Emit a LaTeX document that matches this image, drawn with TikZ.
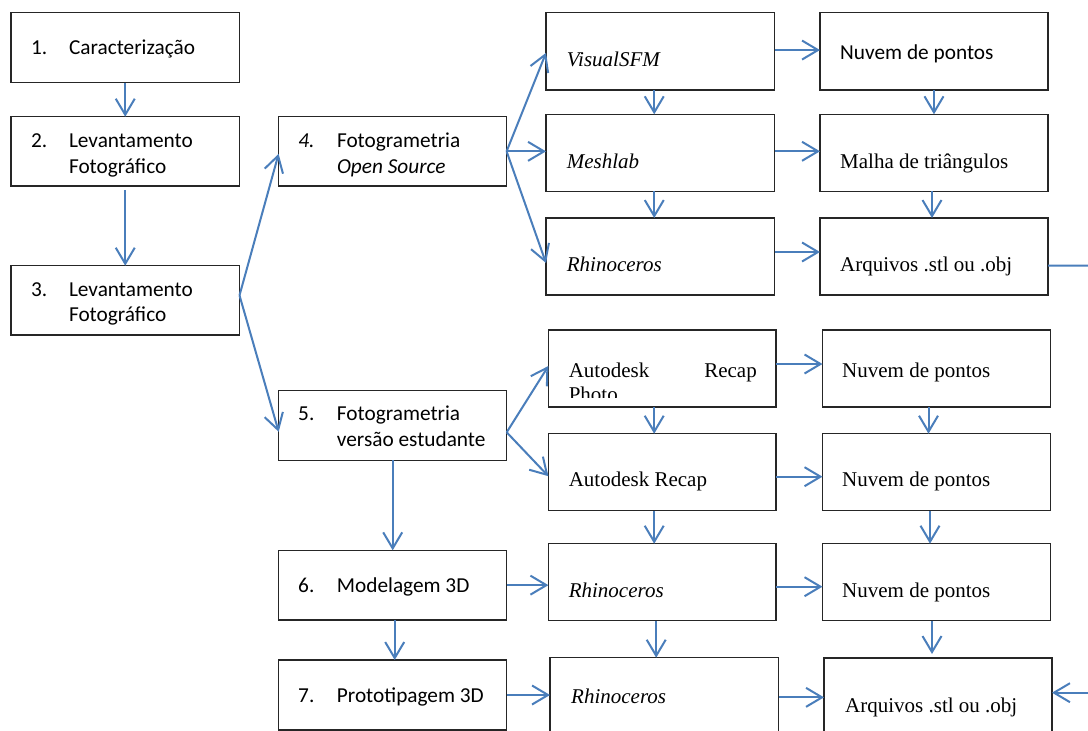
\documentclass[tikz,border=0pt]{standalone}
\usepackage{fontspec}
\setmainfont{Liberation Serif}
\newfontfamily\calfont{Carlito}
\usetikzlibrary{arrows.meta}
\definecolor{arrblue}{HTML}{4A7EBB}
\definecolor{boxline}{HTML}{262626}
\begin{document}
\begin{tikzpicture}[x=1pt,y=-1pt,
  box/.style={draw=boxline, line width=1.3pt, inner sep=0pt, outer sep=0pt},
  st/.style={inner sep=0pt, anchor=base west, font=\fontsize{21}{26}\selectfont},
  ct/.style={inner sep=0pt, anchor=base west, font=\calfont\fontsize{21.3}{26}\selectfont},
  arr/.style={draw=arrblue, line width=2pt, -{Straight Barb[length=16pt,width=19pt]}},
  ln/.style={draw=arrblue, line width=2pt}]
\useasboundingbox (0,0) rectangle (1088,731);
\clip (0,0) rectangle (1088,731);
\fill[white] (0,0) rectangle (1088,731);

% left column boxes
\node[box, minimum width=228.5, minimum height=70]   (b1) at (125.25,47.7) {};
\node[box, minimum width=228.5, minimum height=69.3] (b2) at (125.25,151.35) {};
\node[box, minimum width=228.5, minimum height=69.3] (b3) at (125.25,300.35) {};
\node[box, minimum width=228, minimum height=69.3]   (b4) at (392.6,151.35) {};
\node[box, minimum width=228, minimum height=70]     (b5) at (392.7,425.3) {};
\node[box, minimum width=228, minimum height=69.7]   (b6) at (392.7,585.15) {};
\node[box, minimum width=228, minimum height=70]     (b7) at (392.7,695) {};

% right boxes, top group
\node[box, minimum width=228.5, minimum height=77.3] (vsfm) at (660.25,51.35) {};
\node[box, minimum width=228, minimum height=77.3]   (nv1)  at (934,51.35) {};
\node[box, minimum width=228.5, minimum height=77]   (mesh) at (660.25,152.8) {};
\node[box, minimum width=228, minimum height=77]     (malha) at (934,152.8) {};
\node[box, minimum width=228.5, minimum height=77]   (rh1)  at (660.25,256.5) {};
\node[box, minimum width=228, minimum height=77]     (arq1) at (934,256.5) {};

% right boxes, bottom group
\node[box, minimum width=227.6, minimum height=77] (arp) at (662.2,368.5) {};
\node[box, minimum width=228, minimum height=77]   (nv2) at (936.5,368.5) {};
\node[box, minimum width=227.6, minimum height=77] (ar)  at (662.2,472.2) {};
\node[box, minimum width=228, minimum height=77]   (nv3) at (936.5,472.2) {};
\node[box, minimum width=227.6, minimum height=77] (rh2) at (662.2,582.2) {};
\node[box, minimum width=228, minimum height=77]   (nv4) at (936.5,582.2) {};
\node[box, minimum width=228.6, minimum height=79.3] (rh3) at (664.3,697.35) {};
\node[box, minimum width=228, minimum height=79]     (arq2) at (938,697.5) {};

% left texts
\node[ct] (t1n) at (30.9,54.5) {1.};
\node[ct] (t1)  at (68.8,54.5) {Caracterização};
\node[ct] (t2n) at (30.9,147.3) {2.};
\node[ct] (t2)  at (68.8,147.3) {Levantamento};
\node[ct] (t2b) at (68.8,173.3) {Fotográfico};
\node[ct] (t3n) at (30.9,296) {3.};
\node[ct] (t3)  at (68.8,296) {Levantamento};
\node[ct] (t3b) at (68.8,321.7) {Fotográfico};
\node[ct] (t4n) at (298.2,147.3) {\itshape 4.};
\node[ct] (t4)  at (336.8,147.3) {Fotogrametria};
\node[ct] (t4b) at (336.8,173.3) {\itshape Open Source};
\node[ct] (t5n) at (298,420.7) {5.};
\node[ct] (t5)  at (336.7,420.7) {Fotogrametria};
\node[ct] (t5b) at (336.7,446.7) {versão estudante};
\node[ct] (t6n) at (298,592) {6.};
\node[ct] (t6)  at (336.7,592) {Modelagem 3D};
\node[ct] (t7n) at (298,702.7) {7.};
\node[ct] (t7)  at (336.7,702.7) {Prototipagem 3D};

% right texts
\node[st] (tv)  at (566.7,66.7) {\itshape VisualSFM};
\node[ct] (tn1) at (840,59.3) {Nuvem de pontos};
\node[st] (tm)  at (566.7,168.3) {\itshape Meshlab};
\node[st] (tma) at (840,168.3) {Malha de triângulos};
\node[st] (tr1) at (566.7,271.7) {\itshape Rhinoceros};
\node[st] (ta1) at (840,271.7) {Arquivos .stl ou .obj};

\node[st] (tarp1) at (568.6,377.3) {Autodesk};
\node[st, anchor=base east] (tarp2) at (757,377.3) {Recap};
\begin{scope}
  \clip (549,331) rectangle (775,397);
  \node[st] (tarp3) at (568.6,401.5) {Photo};
\end{scope}
\node[st] (tn2) at (842,377) {Nuvem de pontos};
\node[st] (tar) at (568.6,486.7) {Autodesk Recap};
\node[st] (tn3) at (842,486.7) {Nuvem de pontos};
\node[st] (tr2) at (568.6,597) {\itshape Rhinoceros};
\node[st] (tn4) at (842,597) {Nuvem de pontos};
\node[st] (tr3) at (571,703) {\itshape Rhinoceros};
\node[st] (ta2) at (845,712.7) {Arquivos .stl ou .obj};

% off-page connector ends
\coordinate (offA) at (1088,265.7);
\coordinate (offB) at (1088,692.7);

% left chain
\draw[arr] (b1.south) -- (b2.north);
\draw[arr] ([yshift=-4pt]b2.south) -- (b3.north);
\draw[arr] ([yshift=5pt]b3.east) -- ([yshift=-2.5pt]b4.west);
\draw[arr] ([yshift=5pt]b3.east) -- ([yshift=-6.5pt]b5.west);
\draw[arr] (b5.south) -- (b6.north);
\draw[arr] ([xshift=2pt]b6.south) -- ([xshift=2pt]b7.north);

% box 4 fan
\draw[arr] (b4.east) -- ([yshift=-1.5pt]vsfm.west);
\draw[arr] (b4.east) -- (b4.east -| mesh.west);
\draw[arr] (b4.east) -- ([yshift=-6.5pt]rh1.west);

% top grid
\draw[arr] ([yshift=1.3pt]vsfm.east) -- ([yshift=1.3pt]nv1.west);
\draw[arr] ([xshift=-6pt]vsfm.south) -- ([xshift=-6pt]mesh.north);
\draw[arr] (nv1.south) -- (malha.north);
\draw[arr] ([yshift=1.5pt]mesh.east) -- ([yshift=1.5pt]malha.west);
\draw[arr] ([xshift=-6pt]mesh.south) -- ([xshift=-6pt]rh1.north);
\draw[arr] ([xshift=-2pt]malha.south) -- ([xshift=-2pt]arq1.north);
\draw[arr] ([yshift=4.5pt]rh1.east) -- ([yshift=4.5pt]arq1.west);
\draw[ln] ([yshift=-9pt]arq1.east) -- (offA);

% box 5 fan
\draw[arr] ([yshift=-7pt]b5.east) -- ([yshift=2.5pt]arp.west);
\draw[arr] ([yshift=-7pt]b5.east) -- ([yshift=-4pt]ar.west);

% bottom grid
\draw[arr] ([yshift=4.5pt]arp.east) -- ([yshift=4.5pt]nv2.west);
\draw[arr] ([xshift=-8pt]arp.south) -- ([xshift=-8pt]ar.north);
\draw[arr] ([xshift=-8pt]nv2.south) -- ([xshift=-8pt]nv3.north);
\draw[arr] ([yshift=-4.5pt]ar.east) -- ([yshift=-4.5pt]nv3.west);
\draw[arr] ([xshift=-8pt]ar.south) -- ([xshift=-8pt]rh2.north);
\draw[arr] ([xshift=-6.5pt]nv3.south) -- ([xshift=-6.5pt]nv4.north);
\draw[arr] (b6.east) -- (b6.east -| rh2.west);
\draw[arr] ([yshift=-4.5pt]rh2.east) -- ([yshift=-4.5pt]nv4.west);
\draw[arr] ([xshift=-6pt]rh2.south) -- ([xshift=-6pt]rh2.south |- rh3.north);
\draw[arr] ([xshift=-4.5pt]nv4.south) -- ([xshift=-4.5pt, yshift=4pt]nv4.south |- arq2.north);
\draw[arr] (b7.east) -- (b7.east -| rh3.west);
\draw[arr] (rh3.east) -- (rh3.east -| arq2.west);
\draw[arr] (offB) -- (offB -| arq2.east);
\end{tikzpicture}
\end{document}
